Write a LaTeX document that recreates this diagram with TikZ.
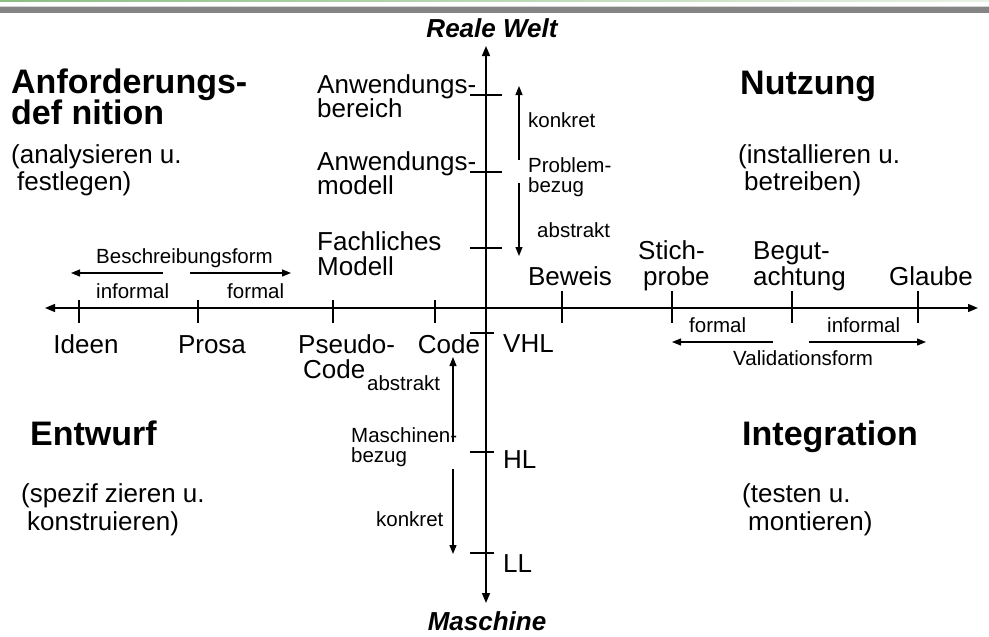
\documentclass[tikz,border=0pt]{standalone}
\usepackage{fontspec}
\setmainfont{Liberation Sans}
\usetikzlibrary{arrows.meta}

\definecolor{bargreen}{HTML}{8CBF84}
\definecolor{barfade}{HTML}{E8F1E5}
\definecolor{bargray}{HTML}{858585}
\definecolor{barlight}{HTML}{D4D4D4}

\tikzset{
  big/.style={font=\fontsize{34}{34}\selectfont\bfseries, inner sep=0pt},
  mid/.style={font=\fontsize{26}{26}\selectfont, inner sep=0pt},
  sml/.style={font=\fontsize{20.5}{20.5}\selectfont, inner sep=0pt},
  pole/.style={font=\fontsize{26}{26}\selectfont\bfseries\itshape, inner sep=0pt},
  axis/.style={line width=1.4pt, {Triangle[length=10pt,width=8pt]}-{Triangle[length=10pt,width=8pt]}},
  dirarrow/.style={line width=1.2pt, -{Triangle[length=9pt,width=7pt]}},
  tick/.style={line width=1.4pt},
}

\begin{document}
\begin{tikzpicture}[x=1pt,y=-1pt]
\useasboundingbox (0,0) rectangle (989,637);

% header rules
\shade[left color=bargreen, right color=barfade] (0,0) rectangle (989,1.6);
\fill[barlight] (0,6) rectangle (989,7.2);
\fill[bargray] (0,7.2) rectangle (989,12.5);

% axes
\coordinate (vtop) at (486,46);
\coordinate (vbot) at (486,603);
\coordinate (hleft) at (45,308);
\coordinate (hright) at (978,308);
\draw[axis] (vtop) -- (vbot);
\draw[axis] (hleft) -- (hright);

% ticks on the horizontal axis
\foreach \x in {79,198,333,435} \draw[tick] (\x,300) -- (\x,323);
\foreach \x in {562,672,792,918} \draw[tick] (\x,291) -- (\x,323);
% ticks on the vertical axis
\foreach \y in {95,172,248} \draw[tick] (470,\y) -- (502,\y);
\foreach \y in {333,452,553} \draw[tick] (470,\y) -- (494,\y);

% poles
\node[pole, anchor=base] (welt) at (492,37) {Reale Welt};
\node[pole, anchor=base] (maschine) at (487,630) {Maschine};

% quadrant titles
\node[big, anchor=base west] (anfA) at (11,93) {Anforderungs-};
\node[big, anchor=base west] (anfB) at (11,124) {def nition};
\node[mid, anchor=base west] (anfC) at (11,163) {(analysieren u.};
\node[mid, anchor=base west] (anfD) at (17,190) {festlegen)};

\node[big, anchor=base west] (nutA) at (740,94) {Nutzung};
\node[mid, anchor=base west] (nutB) at (738,163) {(installieren u.};
\node[mid, anchor=base west] (nutC) at (744,190) {betreiben)};

\node[big, anchor=base west] (entA) at (30,445) {Entwurf};
\node[mid, anchor=base west] (entB) at (21,502) {(spezif zieren u.};
\node[mid, anchor=base west] (entC) at (27,530) {konstruieren)};

\node[big, anchor=base west] (intA) at (742,445) {Integration};
\node[mid, anchor=base west] (intB) at (742,502) {(testen u.};
\node[mid, anchor=base west] (intC) at (748,530) {montieren)};

% levels of the problem domain
\node[mid, anchor=base west] (bereichA) at (317,93) {Anwendungs-};
\node[mid, anchor=base west] (bereichB) at (317,117) {bereich};
\node[mid, anchor=base west] (modellA) at (317,170) {Anwendungs-};
\node[mid, anchor=base west] (modellB) at (317,194) {modell};
\node[mid, anchor=base west] (fachA) at (317,250) {Fachliches};
\node[mid, anchor=base west] (fachB) at (317,275) {Modell};

% description forms
\node[mid, anchor=base] (ideen) at (86,353) {Ideen};
\node[mid, anchor=base] (prosa) at (212,353) {Prosa};
\node[mid, anchor=base west] (pseudoA) at (298,353) {Pseudo-};
\node[mid, anchor=base west] (pseudoB) at (303,378) {Code};
\node[mid, anchor=base] (code) at (449,353) {Code};

% language levels
\node[mid, anchor=base west] (vhl) at (503,352) {VHL};
\node[mid, anchor=base west] (hl) at (503,468) {HL};
\node[mid, anchor=base west] (ll) at (503,572) {LL};

% validation forms
\node[mid, anchor=base] (beweis) at (570,285) {Beweis};
\node[mid, anchor=base west] (stichA) at (638,259) {Stich-};
\node[mid, anchor=base west] (stichB) at (643,285) {probe};
\node[mid, anchor=base west] (begutA) at (753,259) {Begut-};
\node[mid, anchor=base west] (begutB) at (753,285) {achtung};
\node[mid, anchor=base] (glaube) at (931,285) {Glaube};

% problem reference
\coordinate (pkS) at (519,160);
\coordinate (pkE) at (519,86);
\coordinate (paS) at (519,183);
\coordinate (paE) at (519,256);
\draw[dirarrow] (pkS) -- (pkE);
\draw[dirarrow] (paS) -- (paE);
\node[sml, anchor=base west] (pkonkret) at (528,127) {konkret};
\node[sml, anchor=base west] (pbezugA) at (528,172) {Problem-};
\node[sml, anchor=base west] (pbezugB) at (528,192) {bezug};
\node[sml, anchor=base west] (pabstrakt) at (537,237) {abstrakt};

% machine reference
\coordinate (maS) at (453,442);
\coordinate (maE) at (453,357);
\coordinate (mkS) at (453,469);
\coordinate (mkE) at (453,554);
\draw[dirarrow] (maS) -- (maE);
\draw[dirarrow] (mkS) -- (mkE);
\node[sml, anchor=base west] (mabstrakt) at (367,390) {abstrakt};
\node[sml, anchor=base west] (mbezugA) at (351,442) {Maschinen-};
\node[sml, anchor=base west] (mbezugB) at (351,462) {bezug};
\node[sml, anchor=base west] (mkonkret) at (376,526) {konkret};

% form of description
\coordinate (biS) at (163,273);
\coordinate (biE) at (71,273);
\coordinate (bfS) at (190,273);
\coordinate (bfE) at (291,273);
\draw[dirarrow] (biS) -- (biE);
\draw[dirarrow] (bfS) -- (bfE);
\node[sml, anchor=base west] (bform) at (96,263) {Beschreibungsform};
\node[sml, anchor=base west] (binf) at (96,298) {informal};
\node[sml, anchor=base west] (bfor) at (227,298) {formal};

% form of validation
\coordinate (vfS) at (773,342);
\coordinate (vfE) at (672,342);
\coordinate (viS) at (809,342);
\coordinate (viE) at (926,342);
\draw[dirarrow] (vfS) -- (vfE);
\draw[dirarrow] (viS) -- (viE);
\node[sml, anchor=base west] (vfor) at (689,332) {formal};
\node[sml, anchor=base west] (vinf) at (827,332) {informal};
\node[sml, anchor=base west] (vform) at (733,365) {Validationsform};
\end{tikzpicture}
\end{document}
